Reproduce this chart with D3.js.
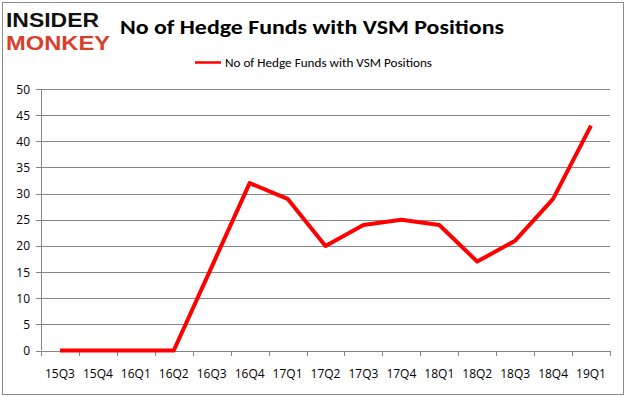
<!DOCTYPE html>
<html>
<head>
<meta charset="utf-8">
<script src="https://cdn.jsdelivr.net/npm/d3@7"></script>
<style>
  body { margin: 0; background: #fff; }
  svg { display: block; }
</style>
</head>
<body>
<svg id="chart"></svg>
<script>
// chart data
const quarters = ['15Q3', '15Q4', '16Q1', '16Q2', '16Q3', '16Q4', '17Q1', '17Q2',
  '17Q3', '17Q4', '18Q1', '18Q2', '18Q3', '18Q4', '19Q1'];
const hedgeFunds = [0, 0, 0, 0, 16, 32, 29, 20, 24, 25, 24, 17, 21, 29, 43];
const yTicks = [0, 5, 10, 15, 20, 25, 30, 35, 40, 45, 50];
const seriesName = 'No of Hedge Funds with VSM Positions';

const width = 626;
const height = 397;
const margin = { top: 89, right: 16, bottom: 46, left: 41 };
const font = 'Calibri, Carlito, Lato, "Open Sans", sans-serif';
const tickFont = '"Open Sans", Lato, sans-serif';

const svg = d3.select('#chart')
  .attr('width', width)
  .attr('height', height)
  .style('font-family', font);

// outer frame
svg.append('rect')
  .attr('x', 2.5).attr('y', 2.5)
  .attr('width', width - 5).attr('height', height - 5)
  .attr('fill', '#fff')
  .attr('stroke', '#8c8c8c');

// logo
const logo = svg.append('g')
  .style('font-family', '"Liberation Sans", Arial, sans-serif')
  .style('font-weight', 'bold');
logo.append('text')
  .attr('x', 6).attr('y', 27)
  .attr('textLength', 93).attr('lengthAdjust', 'spacingAndGlyphs')
  .attr('font-size', 20).attr('fill', '#111')
  .text('INSIDER');
logo.append('text')
  .attr('x', 6).attr('y', 50)
  .attr('textLength', 104).attr('lengthAdjust', 'spacingAndGlyphs')
  .attr('font-size', 20).attr('fill', '#d9402b')
  .text('MONKEY');

// title
svg.append('text')
  .attr('x', 312).attr('y', 34)
  .attr('text-anchor', 'middle')
  .attr('font-size', 21).attr('font-weight', 'bold')
  .attr('textLength', 384).attr('lengthAdjust', 'spacingAndGlyphs')
  .attr('fill', '#000')
  .text(seriesName);

// legend
svg.append('line')
  .attr('x1', 195).attr('x2', 221)
  .attr('y1', 62.5).attr('y2', 62.5)
  .attr('stroke', '#ff0000').attr('stroke-width', 2.5);
svg.append('text')
  .attr('x', 225).attr('y', 66.5)
  .attr('font-size', 12)
  .attr('textLength', 207).attr('lengthAdjust', 'spacingAndGlyphs')
  .attr('fill', '#000')
  .text(seriesName);

const x = d3.scalePoint()
  .domain(quarters)
  .range([margin.left, width - margin.right])
  .padding(0.5);

const y = d3.scaleLinear()
  .domain([0, 50])
  .range([height - margin.bottom - 0.5, margin.top]);

// gridlines
svg.append('g')
  .selectAll('line')
  .data(yTicks)
  .join('line')
  .attr('x1', margin.left - 5)
  .attr('x2', width - margin.right)
  .attr('y1', (d) => Math.round(y(d)) + 0.5)
  .attr('y2', (d) => Math.round(y(d)) + 0.5)
  .attr('stroke', '#868686');

// y axis line
svg.append('line')
  .attr('x1', margin.left + 0.5).attr('x2', margin.left + 0.5)
  .attr('y1', margin.top).attr('y2', y(0))
  .attr('stroke', '#868686');

// y labels
svg.append('g')
  .style('font-family', tickFont)
  .selectAll('text')
  .data(yTicks)
  .join('text')
  .attr('x', margin.left - 11)
  .attr('y', (d) => y(d) + 4.5)
  .attr('text-anchor', 'end')
  .attr('font-size', 12)
  .attr('fill', '#000')
  .text((d) => d);

// x axis ticks at category boundaries
const step = x.step();
const bounds = d3.range(quarters.length + 1).map((i) => margin.left + i * step);
svg.append('g')
  .selectAll('line')
  .data(bounds)
  .join('line')
  .attr('x1', (d) => Math.round(d) + 0.5)
  .attr('x2', (d) => Math.round(d) + 0.5)
  .attr('y1', Math.round(y(0)))
  .attr('y2', Math.round(y(0)) + 5)
  .attr('stroke', '#868686');

// x labels
svg.append('g')
  .style('font-family', tickFont)
  .selectAll('text')
  .data(quarters)
  .join('text')
  .attr('x', (d) => x(d))
  .attr('y', 378)
  .attr('text-anchor', 'middle')
  .attr('font-size', 12)
  .attr('fill', '#000')
  .text((d) => d);

// series line
const line = d3.line()
  .x((d, i) => x(quarters[i]))
  .y((d) => y(d));

svg.append('path')
  .datum(hedgeFunds)
  .attr('d', line)
  .attr('fill', 'none')
  .attr('stroke', '#ff0000')
  .attr('stroke-width', 4)
  .attr('stroke-linejoin', 'round');
</script>
</body>
</html>
